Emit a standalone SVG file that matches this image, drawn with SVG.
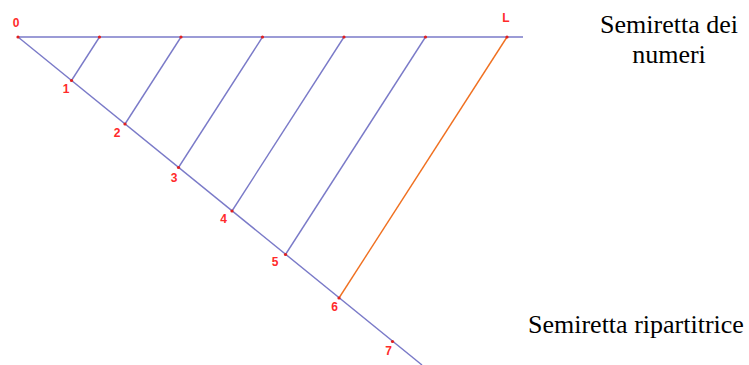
<svg xmlns="http://www.w3.org/2000/svg" width="749" height="365" viewBox="0 0 749 365">
<style>
.ln{stroke:#7a7ac8;stroke-width:1.4;fill:none}
.or{stroke:#f07020;stroke-width:1.4;fill:none}
.pt{fill:#e02020}
.lb{font-family:"Liberation Sans",Arial,sans-serif;font-size:12px;font-weight:bold;fill:#ff2a2a;text-anchor:middle}
.tx{font-family:"Liberation Serif","Times New Roman",serif;font-size:26px;fill:#000}
</style>
<rect width="749" height="365" fill="#fff"/>
<g id="connectors">
<line class="ln" x1="18" y1="37" x2="523" y2="37"/>
<line class="ln" x1="18" y1="37" x2="422" y2="365"/>
<line class="ln" x1="99.5" y1="37" x2="71.5" y2="80.5"/>
<line class="ln" x1="181" y1="37" x2="125" y2="124"/>
<line class="ln" x1="262.5" y1="37" x2="178.5" y2="167.5"/>
<line class="ln" x1="344" y1="37" x2="232" y2="211"/>
<line class="ln" x1="425.5" y1="37" x2="285.5" y2="254.5"/>
<line class="or" x1="507" y1="37" x2="339" y2="298"/>
</g>
<g id="p0"><circle class="pt" cx="18" cy="37" r="1.6"/><text class="lb" x="16" y="27">0</text></g>
<g id="pL"><circle class="pt" cx="507" cy="37" r="1.6"/><text class="lb" x="506" y="22">L</text></g>
<g id="t1"><circle class="pt" cx="99.5" cy="37" r="1.6"/></g>
<g id="t2"><circle class="pt" cx="181" cy="37" r="1.6"/></g>
<g id="t3"><circle class="pt" cx="262.5" cy="37" r="1.6"/></g>
<g id="t4"><circle class="pt" cx="344" cy="37" r="1.6"/></g>
<g id="t5"><circle class="pt" cx="425.5" cy="37" r="1.6"/></g>
<g id="p1"><circle class="pt" cx="71.5" cy="80.5" r="1.6"/><text class="lb" x="66" y="93">1</text></g>
<g id="p2"><circle class="pt" cx="125" cy="124" r="1.6"/><text class="lb" x="117" y="137">2</text></g>
<g id="p3"><circle class="pt" cx="178.5" cy="167.5" r="1.6"/><text class="lb" x="174" y="181.5">3</text></g>
<g id="p4"><circle class="pt" cx="232" cy="211" r="1.6"/><text class="lb" x="223.5" y="223">4</text></g>
<g id="p5"><circle class="pt" cx="285.5" cy="254.5" r="1.6"/><text class="lb" x="275" y="266">5</text></g>
<g id="p6"><circle class="pt" cx="339" cy="298" r="1.6"/><text class="lb" x="334.5" y="311">6</text></g>
<g id="p7"><circle class="pt" cx="392.5" cy="341.5" r="1.6"/><text class="lb" x="388.5" y="355">7</text></g>
<g id="label-numeri">
<text class="tx" x="669" y="32.5" text-anchor="middle">Semiretta dei</text>
<text class="tx" x="669" y="63" text-anchor="middle">numeri</text>
</g>
<g id="label-ripartitrice"><text class="tx" x="528" y="333">Semiretta ripartitrice</text></g>
</svg>
